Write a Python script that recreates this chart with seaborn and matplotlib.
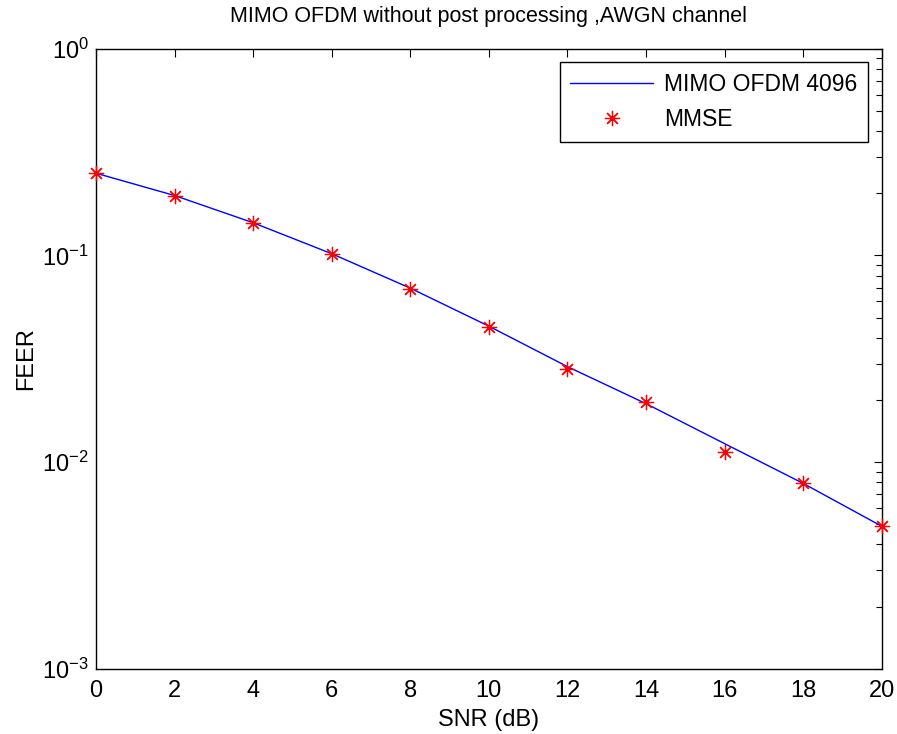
import seaborn as sns
import pandas as pd
import matplotlib.pyplot as plt
import numpy as np
from matplotlib.ticker import LogLocator, NullFormatter

snr = [0, 2, 4, 6, 8, 10, 12, 14, 16, 18, 20]
feer_ofdm = [0.250, 0.195, 0.144, 0.102, 0.0695, 0.0455, 0.0290, 0.0192, 0.0123, 0.0079, 0.0049]
feer_mmse = [0.251, 0.194, 0.144, 0.1014, 0.0692, 0.0451, 0.0283, 0.0195, 0.0112, 0.0079, 0.00493]

sns.set_style('white')
plt.rcParams['font.family'] = ['Liberation Sans', 'DejaVu Sans']
plt.rcParams['text.color'] = 'black'
plt.rcParams['axes.labelcolor'] = 'black'
plt.rcParams['xtick.color'] = 'black'
plt.rcParams['ytick.color'] = 'black'
plt.rcParams['mathtext.fontset'] = 'custom'
plt.rcParams['mathtext.rm'] = 'Liberation Sans'
plt.rcParams['mathtext.it'] = 'Liberation Sans'

df_line = pd.DataFrame({'snr': snr, 'feer': feer_ofdm})
df_pts = pd.DataFrame({'snr': snr, 'feer': feer_mmse})

fig = plt.figure(figsize=(8.97, 7.34), dpi=100)
ax = fig.add_axes([0.107, 0.0886, 0.876, 0.845])

sns.lineplot(data=df_line, x='snr', y='feer', color='#0000ff', linewidth=1.0,
             label='MIMO OFDM 4096', ax=ax)
ax.plot(df_pts['snr'], df_pts['feer'], linestyle='none', marker=(8, 2, 0),
        markersize=11, markeredgecolor='#ff0000', markeredgewidth=0.9,
        color='#ff0000', label='MMSE', clip_on=False, zorder=5)

ax.set_yscale('log')
ax.set_xlim(0, 20)
ax.set_ylim(1e-3, 1)
ax.set_xticks(np.arange(0, 21, 2))
ax.yaxis.set_major_locator(LogLocator(base=10, numticks=10))
ax.yaxis.set_minor_locator(LogLocator(base=10, subs=np.arange(2, 10), numticks=20))
ax.yaxis.set_minor_formatter(NullFormatter())

ax.tick_params(which='both', direction='in', top=True, right=True, labelsize=17)
ax.tick_params(which='major', length=6, width=0.8)
ax.tick_params(which='minor', length=4, width=0.8)
ax.tick_params(axis='x', which='both', pad=8)
ax.tick_params(axis='y', which='both', pad=5)
for s in ax.spines.values():
    s.set_color('black')
    s.set_linewidth(1.0)

ax.set_xlabel('SNR (dB)', fontsize=17, labelpad=5)
ax.set_ylabel('FEER', fontsize=17, labelpad=4)
ax.set_title('MIMO OFDM without post processing ,AWGN channel', fontsize=15.5, pad=19)

leg = ax.legend(loc='upper right', fontsize=16.5, frameon=True, fancybox=False,
                edgecolor='black', framealpha=1, borderaxespad=0.6,
                handlelength=3.6, handletextpad=0.5, labelspacing=0.55, borderpad=0.45)
leg.get_frame().set_linewidth(1.0)

plt.savefig('out.png', dpi=100)
